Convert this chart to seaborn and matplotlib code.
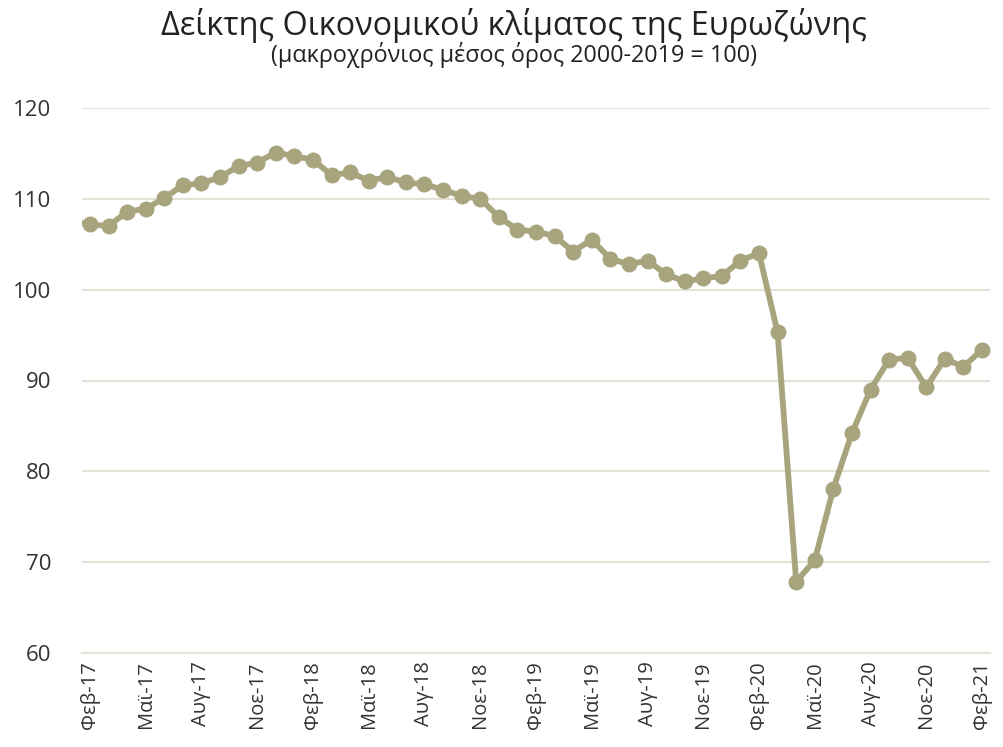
import numpy as np
import pandas as pd
import matplotlib
matplotlib.use("Agg")
import matplotlib.pyplot as plt
from matplotlib.ticker import FixedLocator
import seaborn as sns

# μηνιαίες τιμές, Ιαν-17 έως Φεβ-21 (ο Ιαν-17 κόβεται από τον άξονα)
months = ['Ιαν', 'Φεβ', 'Μαρ', 'Απρ', 'Μαϊ', 'Ιουν', 'Ιουλ', 'Αυγ', 'Σεπ', 'Οκτ', 'Νοε', 'Δεκ']
years = [17, 18, 19, 20, 21]
esi = [107.5,
       107.2, 107.0, 108.6, 108.9, 110.1, 111.5, 111.7, 112.4, 113.6, 114.0, 115.1,
       114.7, 114.3, 112.6, 112.9, 112.0, 112.4, 111.8, 111.6, 111.0, 110.3, 110.0, 108.0,
       106.6, 106.4, 105.9, 104.2, 105.5, 103.4, 102.8, 103.2, 101.7, 100.9, 101.25, 101.5,
       103.2, 104.0, 95.3, 67.85, 70.2, 78.1, 84.2, 89.0, 92.3, 92.5, 89.25, 92.4,
       91.5, 93.4]

labels = [f'{m}-{y}' for y in years for m in months][:len(esi)]
df = pd.DataFrame({'pos': np.arange(len(esi)) - 1, 'label': labels, 'esi': esi})

sns.set_style("white")
plt.rcParams['font.family'] = ['Open Sans', 'DejaVu Sans']

line_col = '#A8A57E'
grid_col = '#E4E1D7'
text_col = '#333333'

fig = plt.figure(figsize=(10.04, 7.47), dpi=100)
ax = fig.add_axes([82 / 1004, 1 - 653 / 747, (990 - 82) / 1004, (653 - 108) / 747])

sns.lineplot(data=df, x='pos', y='esi', ax=ax, color=line_col, lw=4.2,
             marker='o', markersize=11.5, markeredgewidth=0, clip_on=True)

ax.set_xlim(-0.43, 48.43)
ax.set_ylim(60, 120)
ax.set_yticks(np.arange(60, 121, 10))
ax.yaxis.grid(True, color=grid_col, lw=1.5)
ax.set_axisbelow(True)

# ετικέτες κάθε 3 μήνες, γραμμές υποδιαίρεσης ανάμεσα στις κατηγορίες
tick_df = df[df['pos'] % 3 == 0]
ax.set_xticks(tick_df['pos'])
ax.set_xticklabels(tick_df['label'], rotation=90, fontsize=14.5, color=text_col)
ax.tick_params(axis='x', length=0, pad=6)
ax.xaxis.set_minor_locator(FixedLocator(tick_df['pos'] - 0.5))
ax.tick_params(axis='x', which='minor', length=6, width=1.5, color=grid_col)
ax.tick_params(axis='y', length=0, pad=22, labelsize=16, labelcolor=text_col)

for s in ['top', 'right', 'left']:
    ax.spines[s].set_visible(False)
ax.spines['bottom'].set_color(grid_col)
ax.spines['bottom'].set_linewidth(1.5)
ax.set_xlabel('')
ax.set_ylabel('')

fig.text(0.512, 0.966, 'Δείκτης Οικονομικού κλίματος της Ευρωζώνης',
         ha='center', va='center', fontsize=23.3, color='#222222')
fig.text(0.512, 0.927, '(μακροχρόνιος μέσος όρος 2000-2019 = 100)',
         ha='center', va='center', fontsize=16.8, color='#222222')

fig.savefig('out.png', dpi=100)
